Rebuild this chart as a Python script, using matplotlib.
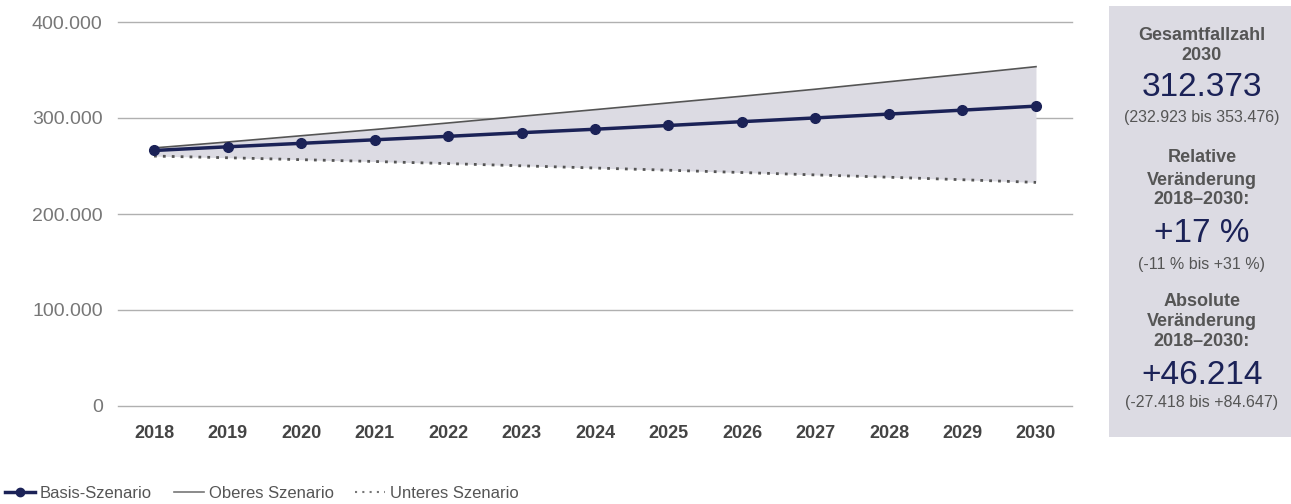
import matplotlib
matplotlib.use("Agg")
import matplotlib.pyplot as plt
from matplotlib.lines import Line2D
from matplotlib.patches import Rectangle

plt.rcParams['font.family'] = ['Liberation Sans', 'DejaVu Sans']

years = [2018, 2019, 2020, 2021, 2022, 2023, 2024, 2025, 2026, 2027, 2028, 2029, 2030]
basis = [266159, 270000, 273600, 277300, 280900, 284700, 288300, 292200, 296200, 300100, 304100, 308200, 312373]
oberes = [268829, 275000, 281500, 288000, 294800, 301800, 308700, 315700, 322700, 330000, 337800, 345500, 353476]
unteres = [260341, 258600, 256600, 254700, 252500, 250200, 247900, 245600, 243200, 240700, 238300, 235700, 232923]
yticks = [0, 100000, 200000, 300000, 400000]
ytick_labels = ["0", "100.000", "200.000", "300.000", "400.000"]

panel_lines = [
    ("Gesamtfallzahl", "label", 35),
    ("2030", "label", 56),
    ("312.373", "big", 88),
    ("(232.923 bis 353.476)", "small", 117),
    ("Relative", "label", 157),
    ("Veränderung", "label", 180),
    ("2018–2030:", "label", 200),
    ("+17 %", "big", 233),
    ("(-11 % bis +31 %)", "small", 265),
    ("Absolute", "label", 302),
    ("Veränderung", "label", 322),
    ("2018–2030:", "label", 342),
    ("+46.214", "big", 375),
    ("(-27.418 bis +84.647)", "small", 403),
]

W, H = 1291, 504
navy = "#1b2257"
fill_c = "#dcdbe3"
fig = plt.figure(figsize=(W / 100, H / 100), dpi=100)
ax = fig.add_axes([118 / W, 1 - 406 / H, (1072 - 118) / W, (406 - 22) / H])

ax.fill_between(years, unteres, oberes, color=fill_c, lw=0, zorder=1)
ax.plot(years, oberes, color="#555555", lw=1.2, zorder=2)
ax.plot(years, unteres, color="#555555", lw=2, linestyle=(0, (1, 2.2)), zorder=2)
ax.plot(years, basis, color=navy, lw=2.5, marker="o", ms=7, zorder=3)

ax.set_xlim(2017.51, 2030.49)
ax.set_ylim(0, 400000)
ax.set_yticks(yticks)
ax.set_yticklabels(ytick_labels)
ax.set_xticks(years)
ax.set_xticklabels([str(y) for y in years])
ax.grid(axis="y", color="#b0b0b0", lw=1, zorder=0)
for gl in ax.get_ygridlines():
    gl.set_clip_on(False)
ax.set_axisbelow(True)
for s in ax.spines.values():
    s.set_visible(False)
ax.tick_params(axis="y", length=0, pad=11, labelsize=14, labelcolor="#777777")
ax.tick_params(axis="x", length=0, pad=14, labelsize=13, labelcolor="#444444")
for t in ax.get_xticklabels():
    t.set_fontweight("bold")

# right panel
fig.patches.append(Rectangle((1109 / W, 1 - 437 / H), (W - 1109) / W, (437 - 6) / H,
                             transform=fig.transFigure, color=fill_c, lw=0, zorder=0))
cx = 1202 / W
for txt, kind, y in panel_lines:
    if kind == "label":
        fig.text(cx, 1 - y / H, txt, ha="center", va="center", fontsize=13,
                 fontweight="bold", color="#555555")
    elif kind == "big":
        fig.text(cx, 1 - y / H, txt, ha="center", va="center", fontsize=24, color=navy)
    else:
        fig.text(cx, 1 - y / H, txt, ha="center", va="center", fontsize=11.5,
                 color="#555555")

handles = [
    Line2D([], [], color=navy, lw=2.5, marker="o", ms=6),
    Line2D([], [], color="#777777", lw=1.2),
    Line2D([], [], color="#777777", lw=1.5, linestyle=(0, (1, 2.5))),
]
leg = fig.legend(handles, ["Basis-Szenario", "Oberes Szenario", "Unteres Szenario"],
                 loc="center left", bbox_to_anchor=(5 / W, 1 - 493 / H), ncol=3, frameon=False,
                 fontsize=12, handlelength=1.8, handletextpad=0.3, columnspacing=1.3,
                 borderpad=0, borderaxespad=0)
for t in leg.get_texts():
    t.set_color("#555555")

fig.savefig("out.png", dpi=100)
